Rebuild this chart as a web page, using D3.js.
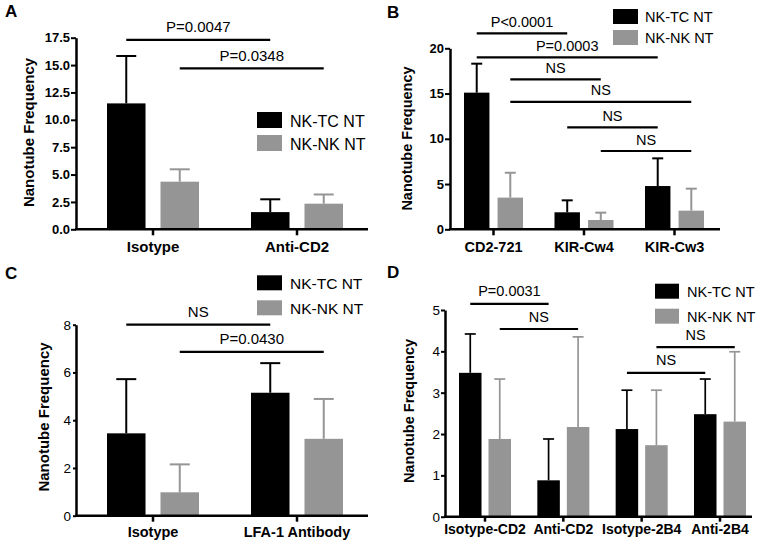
<!DOCTYPE html>
<html><head><meta charset="utf-8">
<script src="https://cdn.jsdelivr.net/npm/d3@7"></script>
<style>html,body{margin:0;padding:0;background:#fff;}</style>
</head><body>
<svg id="chart" width="764" height="544"></svg>
<script>
// ---------- DATA ----------
const seriesNames = ["NK-TC NT", "NK-NK NT"];
const seriesColors = ["#000000", "#959595"];

// Panel A
const catsA = ["Isotype", "Anti-CD2"];
const tcA = [11.5, 1.57];
const tcSdA = [4.33, 1.17];
const nkA = [4.35, 2.34];
const nkSdA = [1.13, 0.84];
const ticksA = [0, 2.5, 5, 7.5, 10, 12.5, 15, 17.5];
const bracketLabelsA = ["P=0.0047", "P=0.0348"];

// Panel B
const catsB = ["CD2-721", "KIR-Cw4", "KIR-Cw3"];
const tcB = [15.1, 1.88, 4.78];
const tcSdB = [3.2, 1.32, 3.06];
const nkB = [3.5, 1.03, 2.06];
const nkSdB = [2.75, 0.81, 2.43];
const ticksB = [0, 5, 10, 15, 20];
const bracketLabelsB = ["P<0.0001", "P=0.0003", "NS", "NS", "NS", "NS"];

// Panel C
const catsC = ["Isotype", "LFA-1 Antibody"];
const tcC = [3.45, 5.15];
const tcSdC = [2.27, 1.24];
const nkC = [0.98, 3.22];
const nkSdC = [1.17, 1.67];
const ticksC = [0, 2, 4, 6, 8];
const bracketLabelsC = ["NS", "P=0.0430"];

// Panel D
const catsD = ["Isotype-CD2", "Anti-CD2", "Isotype-2B4", "Anti-2B4"];
const tcD = [3.48, 0.88, 2.12, 2.48];
const tcSdD = [0.94, 1.0, 0.94, 0.85];
const nkD = [1.88, 2.17, 1.73, 2.30];
const nkSdD = [1.45, 2.18, 1.33, 1.69];
const ticksD = [0, 1, 2, 3, 4, 5];
const bracketLabelsD = ["P=0.0031", "NS", "NS", "NS"];

// ---------- DRAW ----------
const FONT = "'Liberation Sans', Arial, Helvetica, sans-serif";
const svg = d3.select("#chart");

function drawPanel(c) {
  const g = svg.append("g").attr("font-family", FONT);
  const x0 = d3.scaleBand().domain(c.cats).range([c.bandL, c.bandR]).paddingInner(c.pGroup).paddingOuter(0);
  const x1 = d3.scaleBand().domain(seriesNames).range([0, x0.bandwidth()]).paddingInner(c.pInner).paddingOuter(0);
  const y = d3.scaleLinear().domain([0, c.yMax]).range([c.yBottom, c.yTop]);
  const means = [c.tc, c.nk], sds = [c.tcSd, c.nkSd];

  const rows = [];
  c.cats.forEach((cat, i) => seriesNames.forEach((s, j) => {
    rows.push({cat, s, j, v: means[j][i], sd: sds[j][i]});
  }));
  const cx = d => x0(d.cat) + x1(d.s) + x1.bandwidth() / 2;

  // bars
  g.selectAll("rect.bar").data(rows).join("rect").attr("class", "bar")
    .attr("x", d => x0(d.cat) + x1(d.s))
    .attr("width", x1.bandwidth())
    .attr("y", d => y(d.v))
    .attr("height", d => y(0) - y(d.v))
    .attr("fill", d => seriesColors[d.j]);

  // error bars
  const eb = g.selectAll("g.err").data(rows).join("g").attr("class", "err")
    .attr("stroke", d => seriesColors[d.j]).attr("stroke-width", c.errW);
  eb.append("line").attr("x1", cx).attr("x2", cx)
    .attr("y1", d => y(d.v)).attr("y2", d => y(d.v + d.sd));
  eb.append("line").attr("x1", d => cx(d) - c.capW / 2).attr("x2", d => cx(d) + c.capW / 2)
    .attr("y1", d => y(d.v + d.sd)).attr("y2", d => y(d.v + d.sd));

  // y axis
  const ya = g.append("g").attr("transform", `translate(${c.axisX},0)`)
    .call(d3.axisLeft(y).tickValues(c.ticks).tickFormat(d3.format(c.fmt))
      .tickSize(c.tickLen).tickPadding(c.tickPad).tickSizeOuter(0));
  ya.select(".domain").attr("stroke", "#000").attr("stroke-width", 2.5);
  ya.selectAll(".tick line").attr("stroke", "#000").attr("stroke-width", 2);
  ya.selectAll(".tick text").attr("fill", "#000").attr("font-family", FONT)
    .attr("font-size", c.tickFont).attr("font-weight", c.tickBold ? "bold" : "normal");

  // x axis
  const xa = g.append("g").attr("transform", `translate(0,${c.yBottom})`)
    .call(d3.axisBottom(x0).tickSize(c.xTickLen)
      .tickPadding(c.catBase - c.xTickLen - 0.71 * c.catFont).tickSizeOuter(0));
  xa.select(".domain").remove();
  xa.selectAll(".tick line").attr("stroke", "#000").attr("stroke-width", 2.5);
  xa.selectAll(".tick text").attr("fill", "#000").attr("font-family", FONT)
    .attr("font-size", c.catFont).attr("font-weight", "bold");
  g.append("line").attr("x1", c.axisX - 1).attr("x2", c.xEnd)
    .attr("y1", c.yBottom).attr("y2", c.yBottom)
    .attr("stroke", "#000").attr("stroke-width", 2.5);

  // brackets
  const bx = (gi, si) => x0(c.cats[gi]) + x1(seriesNames[si]) + x1.bandwidth() / 2;
  const br = c.brackets.map((b, i) => ({label: c.bracketLabels[i], x1: bx(b[0], b[1]), x2: bx(b[2], b[3]), lv: b[4]}));
  g.selectAll("line.br").data(br).join("line").attr("class", "br")
    .attr("x1", d => d.x1).attr("x2", d => d.x2)
    .attr("y1", d => y(d.lv)).attr("y2", d => y(d.lv))
    .attr("stroke", "#000").attr("stroke-width", 2.2);
  g.selectAll("text.br").data(br).join("text").attr("class", "br")
    .attr("x", d => (d.x1 + d.x2) / 2).attr("y", d => y(d.lv) - c.brGap)
    .attr("text-anchor", "middle").attr("font-size", c.brFont).attr("fill", "#000")
    .text(d => d.label);

  // legend
  const lg = g.selectAll("g.leg").data(seriesNames).join("g").attr("class", "leg")
    .attr("transform", (d, i) => `translate(${c.legX},${c.legY[i]})`);
  lg.append("rect").attr("width", c.legW).attr("height", c.legH)
    .attr("fill", (d, i) => seriesColors[i]);
  lg.append("text").attr("x", c.legTextX - c.legX).attr("y", c.legBase)
    .attr("font-size", c.legFont).attr("fill", "#000").text(d => d);

  // y title
  g.append("text").attr("transform", `translate(${c.titleX},${c.titleY}) rotate(-90)`)
    .attr("text-anchor", "middle").attr("font-size", c.titleFont).attr("font-weight", "bold")
    .attr("fill", "#000").text("Nanotube Frequency");

  // panel letter
  g.append("text").attr("x", c.letterX).attr("y", c.letterY)
    .attr("font-size", 17).attr("font-weight", "bold").attr("fill", "#000").text(c.letter);
}

drawPanel({
  letter: "A", letterX: 5, letterY: 17,
  cats: catsA, tc: tcA, tcSd: tcSdA, nk: nkA, nkSd: nkSdA, ticks: ticksA, fmt: ".1f",
  bracketLabels: bracketLabelsA,
  brackets: [[0, 0, 1, 0, 17.3], [0, 1, 1, 1, 14.7]],
  bandL: 107, bandR: 343, pGroup: 0.361, pInner: 0.28,
  yMax: 17.5, yBottom: 229.3, yTop: 37.7, axisX: 76, xEnd: 368,
  tickLen: 5, tickPad: 1, tickFont: 13, tickBold: true,
  xTickLen: 6, catFont: 15, catBase: 23.1,
  errW: 2, capW: 20, brGap: 7.5, brFont: 15,
  legX: 257, legY: [112, 135], legW: 25, legH: 16, legTextX: 290, legBase: 14.5, legFont: 16,
  titleX: 34, titleY: 132.5, titleFont: 15
});

drawPanel({
  letter: "B", letterX: 387, letterY: 18,
  cats: catsB, tc: tcB, tcSd: tcSdB, nk: nkB, nkSd: nkSdB, ticks: ticksB, fmt: "d",
  bracketLabels: bracketLabelsB,
  brackets: [[0, 0, 1, 0, 21.66], [0, 0, 2, 0, 19.0], [0, 1, 1, 1, 16.57],
             [0, 1, 2, 1, 14.07], [1, 0, 2, 0, 11.27], [1, 1, 2, 1, 8.65]],
  bandL: 464, bandR: 704, pGroup: 0.348, pInner: 0.242,
  yMax: 20, yBottom: 229.3, yTop: 48.3, axisX: 450, xEnd: 720,
  tickLen: 5, tickPad: 1, tickFont: 13, tickBold: true,
  xTickLen: 6, catFont: 14.5, catBase: 22.7,
  errW: 2, capW: 11, brGap: 6.5, brFont: 14.5,
  legX: 613, legY: [9, 30], legW: 25, legH: 15, legTextX: 645, legBase: 13.3, legFont: 14.5,
  titleX: 412.4, titleY: 138.5, titleFont: 14.5
});

drawPanel({
  letter: "C", letterX: 5, letterY: 279,
  cats: catsC, tc: tcC, tcSd: tcSdC, nk: nkC, nkSd: nkSdC, ticks: ticksC, fmt: "d",
  bracketLabels: bracketLabelsC,
  brackets: [[0, 0, 1, 0, 8.0], [0, 1, 1, 1, 6.86]],
  bandL: 107, bandR: 343, pGroup: 0.361, pInner: 0.28,
  yMax: 8, yBottom: 515.7, yTop: 324.7, axisX: 76, xEnd: 368,
  tickLen: 3, tickPad: 2, tickFont: 13.5, tickBold: false,
  xTickLen: 6, catFont: 14.5, catBase: 21.8,
  errW: 2, capW: 20, brGap: 8, brFont: 15,
  legX: 257, legY: [275.3, 300.3], legW: 25, legH: 15, legTextX: 290, legBase: 13.4, legFont: 15.5,
  titleX: 49, titleY: 417, titleFont: 15
});

drawPanel({
  letter: "D", letterX: 387, letterY: 278,
  cats: catsD, tc: tcD, tcSd: tcSdD, nk: nkD, nkSd: nkSdD, ticks: ticksD, fmt: "d",
  bracketLabels: bracketLabelsD,
  brackets: [[0, 0, 1, 0, 5.15], [0, 1, 1, 1, 4.54], [2, 1, 3, 1, 4.1], [2, 0, 3, 0, 3.48]],
  bandL: 459, bandR: 746, pGroup: 0.336, pInner: 0.237,
  yMax: 5, yBottom: 516.7, yTop: 310, axisX: 445, xEnd: 752,
  tickLen: 4, tickPad: 1, tickFont: 13.5, tickBold: false,
  xTickLen: 5, catFont: 14, catBase: 17,
  errW: 1.7, capW: 11, brGap: 7.5, brFont: 14.5,
  legX: 655, legY: [283.7, 308.7], legW: 24, legH: 15, legTextX: 687, legBase: 13.3, legFont: 14.5,
  titleX: 414, titleY: 411, titleFont: 14.5
});
</script>
</body></html>
